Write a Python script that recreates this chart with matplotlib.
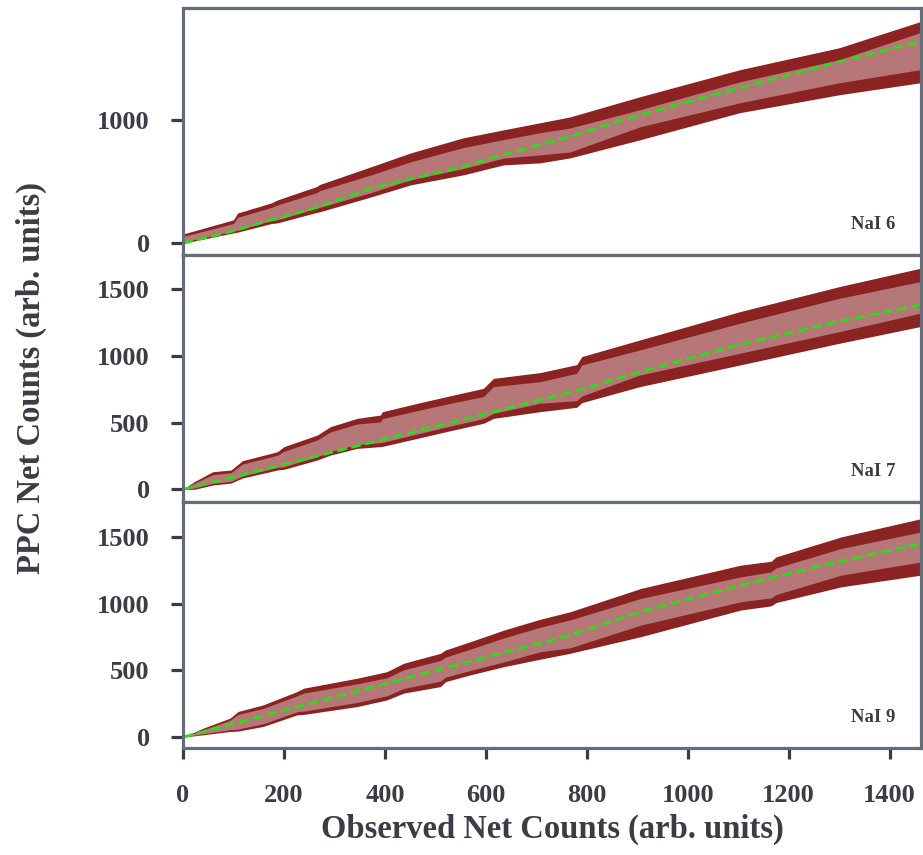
import matplotlib
matplotlib.use("Agg")
import matplotlib.pyplot as plt

plt.rcParams['font.family'] = ['Liberation Serif', 'DejaVu Serif']
plt.rcParams['font.weight'] = 'bold'

# ---- NaI 6 ----
x_nai6 = [0, 100, 108, 175, 187, 265, 270, 372, 451, 555, 635, 707, 767, 905, 1103, 1300, 1460]
outer_hi_nai6 = [75, 190, 245, 327, 351, 460, 475, 619, 732, 854, 919, 976, 1024, 1187, 1406, 1584, 1795]
inner_hi_nai6 = [55, 160, 210, 290, 310, 410, 425, 553, 660, 775, 840, 895, 934, 1082, 1308, 1487, 1706]
green_nai6 = [0, 100, 110, 190, 200, 290, 295, 445, 520, 620, 720, 797, 865, 1041, 1260, 1471, 1633]
inner_lo_nai6 = [10, 100, 105, 185, 190, 285, 290, 410, 515, 605, 690, 716, 740, 943, 1138, 1300, 1406]
outer_lo_nai6 = [0, 84, 90, 160, 165, 250, 254, 375, 473, 554, 635, 651, 692, 838, 1058, 1203, 1300]

# ---- NaI 7 ----
x_nai7 = [0, 22, 59, 95, 118, 187, 200, 266, 292, 345, 391, 395, 464, 536, 595, 615, 707, 780, 790, 905, 1103, 1300, 1460]
outer_hi_nai7 = [0, 57, 132, 145, 215, 282, 320, 407, 470, 532, 557, 582, 645, 707, 757, 832, 875, 935, 995, 1120, 1332, 1520, 1657]
inner_hi_nai7 = [0, 45, 110, 125, 190, 255, 285, 370, 430, 490, 505, 530, 590, 650, 695, 770, 807, 870, 932, 1045, 1245, 1432, 1557]
green_nai7 = [0, 20, 55, 88, 110, 175, 188, 250, 275, 325, 368, 372, 438, 505, 560, 580, 670, 740, 750, 880, 1085, 1260, 1382]
inner_lo_nai7 = [0, 10, 45, 60, 100, 165, 170, 245, 285, 335, 350, 352, 415, 480, 530, 570, 645, 665, 700, 857, 1020, 1182, 1320]
outer_lo_nai7 = [0, 0, 32, 47, 85, 145, 150, 220, 257, 307, 320, 322, 382, 445, 495, 532, 582, 615, 650, 770, 932, 1095, 1220]

# ---- NaI 9 ----
x_nai9 = [0, 40, 93, 109, 159, 226, 239, 345, 404, 437, 510, 520, 569, 636, 708, 767, 907, 1105, 1165, 1175, 1304, 1462]
outer_hi_nai9 = [0, 67, 142, 192, 242, 342, 367, 442, 491, 554, 629, 654, 716, 804, 885, 941, 1116, 1291, 1320, 1353, 1503, 1640]
inner_hi_nai9 = [0, 55, 125, 170, 215, 310, 330, 400, 445, 505, 575, 600, 660, 745, 825, 880, 1041, 1203, 1240, 1270, 1416, 1540]
green_nai9 = [0, 40, 93, 109, 159, 226, 239, 345, 404, 437, 510, 520, 569, 636, 704, 766, 940, 1140, 1195, 1205, 1320, 1453]
inner_lo_nai9 = [0, 25, 55, 60, 100, 190, 195, 260, 310, 365, 420, 450, 500, 565, 641, 670, 841, 1016, 1045, 1070, 1216, 1315]
outer_lo_nai9 = [0, 17, 42, 45, 80, 167, 170, 229, 279, 330, 379, 416, 467, 529, 585, 629, 754, 954, 985, 1010, 1128, 1216]

panel_labels = ["NaI 6", "NaI 7", "NaI 9"]
ylims = [(-95, 1906), (-95, 1757), (-82, 1765)]
yticks = [[0, 1000], [0, 500, 1000, 1500], [0, 500, 1000, 1500]]
xticks = [0, 200, 400, 600, 800, 1000, 1200, 1400]

panels = [
    (x_nai6, outer_lo_nai6, inner_lo_nai6, green_nai6, inner_hi_nai6, outer_hi_nai6),
    (x_nai7, outer_lo_nai7, inner_lo_nai7, green_nai7, inner_hi_nai7, outer_hi_nai7),
    (x_nai9, outer_lo_nai9, inner_lo_nai9, green_nai9, inner_hi_nai9, outer_hi_nai9),
]

W, H = 923, 855
fig = plt.figure(figsize=(W / 100, H / 100), dpi=100)

spine_col = '#646e78'
tick_col = '#3a3c44'
text_col = '#3b3d45'
dark_band = '#8b2323'
light_band = '#b57777'
line_col = '#2fdc1a'

tops = [8, 255, 502]
bots = [255, 502, 748]
left_px, right_px = 183, 921

for i, (xs, olo, ilo, gr, ihi, ohi) in enumerate(panels):
    ax = fig.add_axes([left_px / W, 1 - bots[i] / H,
                       (right_px - left_px) / W, (bots[i] - tops[i]) / H])
    ax.fill_between(xs, olo, ohi, color=dark_band, lw=0)
    ax.fill_between(xs, ilo, ihi, color=light_band, lw=0)
    ax.plot(xs, gr, color=line_col, lw=2.0, ls=(0, (3.6, 1.6)))
    ax.set_xlim(0, 1462)
    ax.set_ylim(*ylims[i])
    ax.set_yticks(yticks[i])
    ax.set_xticks(xticks)
    for sp in ax.spines.values():
        sp.set_color(spine_col)
        sp.set_linewidth(2.3)
    ax.tick_params(axis='y', direction='out', length=9, width=2.3, color=tick_col,
                   labelsize=19, labelcolor=text_col, pad=15)
    ax.tick_params(axis='x', direction='out', length=8, width=2.3, color=tick_col,
                   labelsize=19, labelcolor=text_col, pad=18)
    for lab in ax.get_yticklabels() + ax.get_xticklabels():
        lab.set_fontweight('bold')
    if i < 2:
        ax.tick_params(axis='x', bottom=False, labelbottom=False)
    ax.text(0.965, 0.125, panel_labels[i], transform=ax.transAxes,
            ha='right', va='center', fontsize=13.5, fontweight='bold', color=text_col)

fig.text(552 / W, 1 - 838 / H, "Observed Net Counts (arb. units)", ha='center', va='baseline',
         fontsize=23.5, fontweight='bold', color=text_col)
fig.text(31 / W, 1 - 378 / H, "PPC Net Counts (arb. units)", ha='center', va='center',
         rotation=90, fontsize=23.5, fontweight='bold', color=text_col)

fig.savefig("out.png", dpi=100)
